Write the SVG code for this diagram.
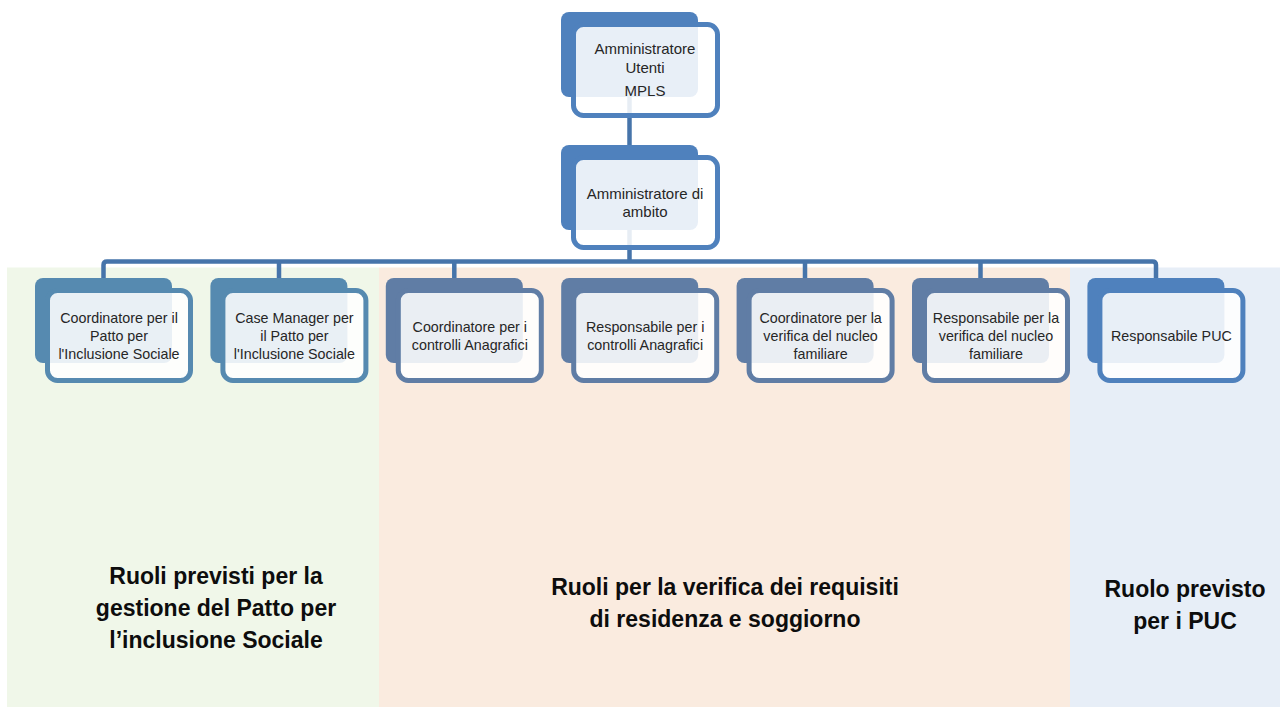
<svg xmlns="http://www.w3.org/2000/svg" width="1280" height="707" viewBox="0 0 1280 707">
<style>
.back{stroke:none}
.front{fill:#ffffff;fill-opacity:0.87;stroke-width:5}
.t{font-family:"Liberation Sans",Arial,sans-serif;font-size:14.3px;fill:#262626;text-anchor:middle}
.tt{font-size:15px}
.big{font-family:"Liberation Sans",Arial,sans-serif;font-size:23px;font-weight:bold;fill:#0d0d0d;text-anchor:middle}
.conn{fill:none;stroke:#4674AA;stroke-width:4.5}
.g1 .back{fill:#568AB0}.g1 .front{stroke:#568AB0}
.g2 .back{fill:#607DA5}.g2 .front{stroke:#607DA5}
.g3 .back{fill:#4F81BD}.g3 .front{stroke:#4F81BD}
</style>
<rect width="1280" height="707" fill="#ffffff"/>
<g id="panels">
<rect x="7" y="267.5" width="372" height="440" fill="#F0F7E9"/>
<rect x="379" y="267.5" width="691" height="440" fill="#FAEBDF"/>
<rect x="1070" y="267.5" width="210" height="440" fill="#E7EEF7"/>
</g>
<g id="connectors">
<path class="conn" d="M629.5,97 V145"/>
<path class="conn" d="M629.5,230 V262"/>
<path class="conn" d="M103.5,278 V265 Q103.5,261.5 107,261.5 H1152.5 Q1156,261.5 1156,265 V278"/>
<path class="conn" d="M279,261.5 V278 M454.3,261.5 V278 M805,261.5 V278 M980.5,261.5 V278"/>
</g>
<g id="n-admin-mpls" class="g3">
<rect class="back" x="561" y="12" width="137" height="85" rx="8"/>
<rect class="front" x="573.5" y="24.5" width="144" height="91" rx="10"/>
<text class="t tt" x="645" y="54">Amministratore</text>
<text class="t tt" x="645" y="73">Utenti</text>
<text class="t tt" x="645" y="96">MPLS</text>
</g>
<g id="n-admin-ambito" class="g3">
<rect class="back" x="561" y="145" width="137" height="85" rx="8"/>
<rect class="front" x="573.5" y="157.5" width="144" height="90" rx="10"/>
<text class="t tt" x="645" y="199">Amministratore di</text>
<text class="t tt" x="645" y="217">ambito</text>
</g>
<g id="n-coord-patto" class="g1">
<rect class="back" x="35" y="278" width="137" height="85" rx="8"/>
<rect class="front" x="47.5" y="290.5" width="143" height="90" rx="10"/>
<text class="t" x="119" y="323">Coordinatore per il</text>
<text class="t" x="119" y="341">Patto per</text>
<text class="t" x="119" y="359">l'Inclusione Sociale</text>
</g>
<g id="n-case-manager" class="g1">
<rect class="back" x="210.4" y="278" width="137" height="85" rx="8"/>
<rect class="front" x="222.9" y="290.5" width="143" height="90" rx="10"/>
<text class="t" x="294.4" y="323">Case Manager per</text>
<text class="t" x="294.4" y="341">il Patto per</text>
<text class="t" x="294.4" y="359">l'Inclusione Sociale</text>
</g>
<g id="n-coord-anagrafici" class="g2">
<rect class="back" x="385.8" y="278" width="137" height="85" rx="8"/>
<rect class="front" x="398.3" y="290.5" width="143" height="90" rx="10"/>
<text class="t" x="469.8" y="332">Coordinatore per i</text>
<text class="t" x="469.8" y="350">controlli Anagrafici</text>
</g>
<g id="n-resp-anagrafici" class="g2">
<rect class="back" x="561.2" y="278" width="137" height="85" rx="8"/>
<rect class="front" x="573.7" y="290.5" width="143" height="90" rx="10"/>
<text class="t" x="645.2" y="332">Responsabile per i</text>
<text class="t" x="645.2" y="350">controlli Anagrafici</text>
</g>
<g id="n-coord-nucleo" class="g2">
<rect class="back" x="736.6" y="278" width="137" height="85" rx="8"/>
<rect class="front" x="749.1" y="290.5" width="143" height="90" rx="10"/>
<text class="t" x="820.6" y="323">Coordinatore per la</text>
<text class="t" x="820.6" y="341">verifica del nucleo</text>
<text class="t" x="820.6" y="359">familiare</text>
</g>
<g id="n-resp-nucleo" class="g2">
<rect class="back" x="912" y="278" width="137" height="85" rx="8"/>
<rect class="front" x="924.5" y="290.5" width="143" height="90" rx="10"/>
<text class="t" x="996" y="323">Responsabile per la</text>
<text class="t" x="996" y="341">verifica del nucleo</text>
<text class="t" x="996" y="359">familiare</text>
</g>
<g id="n-resp-puc" class="g3">
<rect class="back" x="1087.4" y="278" width="137" height="85" rx="8"/>
<rect class="front" x="1099.9" y="290.5" width="143" height="90" rx="10"/>
<text class="t" x="1171.4" y="341">Responsabile PUC</text>
</g>
<g id="labels">
<text class="big" x="216" y="584">Ruoli previsti per la</text>
<text class="big" x="216" y="616">gestione del Patto per</text>
<text class="big" x="216" y="648">l’inclusione Sociale</text>
<text class="big" x="725" y="595">Ruoli per la verifica dei requisiti</text>
<text class="big" x="725" y="627">di residenza e soggiorno</text>
<text class="big" x="1185" y="597">Ruolo previsto</text>
<text class="big" x="1185" y="629">per i PUC</text>
</g>
</svg>
